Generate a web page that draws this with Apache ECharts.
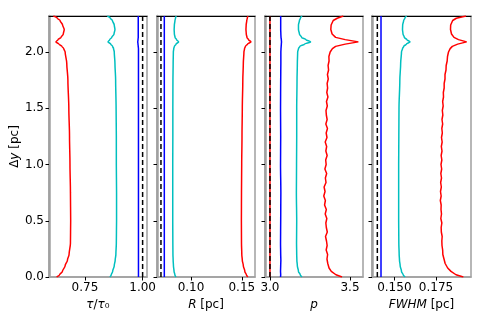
<!DOCTYPE html>
<html>
<head>
<meta charset="utf-8">
<script src="https://cdn.jsdelivr.net/npm/echarts@6/dist/echarts.min.js"></script>
<style>
  html, body { margin: 0; padding: 0; background: #fff; }
  #main { width: 491px; height: 327px; }
</style>
</head>
<body>
<div id="main"></div>
<script>
// shared height axis
var dySmooth = [0, 0.02, 0.05, 0.1, 0.15, 0.2, 0.3, 0.5, 0.75, 1.0, 1.25, 1.5, 1.75, 1.9, 2.0,
                2.03, 2.05, 2.07, 2.09, 2.11, 2.13, 2.16, 2.2, 2.24, 2.28, 2.3, 2.32];
var dyNoisy = [0, 0.02, 0.05, 0.08, 0.12,
               0.16, 0.20, 0.24, 0.28, 0.32, 0.36, 0.40, 0.44, 0.48, 0.52, 0.56, 0.60, 0.64, 0.68, 0.72,
               0.76, 0.80, 0.84, 0.88, 0.92, 0.96, 1.00, 1.04, 1.08, 1.12, 1.16, 1.20, 1.24, 1.28, 1.32,
               1.36, 1.40, 1.44, 1.48, 1.52, 1.56, 1.60, 1.64, 1.68, 1.72, 1.76, 1.80, 1.84, 1.88, 1.92,
               1.96, 2.00, 2.03, 2.05, 2.07, 2.09, 2.11, 2.13, 2.16, 2.20, 2.24, 2.28, 2.30, 2.32];
var dyEnds = [0, 2.32];

// panel 1: tau / tau0
var tauRed = [0.627, 0.640, 0.652, 0.664, 0.674, 0.681, 0.687, 0.688, 0.687, 0.685, 0.683, 0.680, 0.676, 0.671, 0.664,
              0.658, 0.650, 0.637, 0.624, 0.633, 0.646, 0.656, 0.660, 0.653, 0.642, 0.630, 0.613];
var tauCyan = [0.858, 0.864, 0.870, 0.877, 0.881, 0.884, 0.886, 0.887, 0.887, 0.886, 0.886, 0.885, 0.883, 0.880, 0.877,
               0.874, 0.870, 0.862, 0.850, 0.857, 0.866, 0.876, 0.880, 0.877, 0.869, 0.860, 0.847];
var tauBlue = [0.982, 0.982, 0.982, 0.982, 0.982, 0.982, 0.982, 0.982, 0.982, 0.982, 0.982, 0.982, 0.982, 0.982, 0.982,
               0.982, 0.981, 0.980, 0.979, 0.980, 0.981, 0.981, 0.981, 0.981, 0.981, 0.981, 0.981];
var tauRef = [1.0, 1.0];

// panel 2: R [pc]
var rRed = [0.1560, 0.1545, 0.1530, 0.1515, 0.1505, 0.1500, 0.1497, 0.1496, 0.1497, 0.1499, 0.1502, 0.1505, 0.1510, 0.1515, 0.1521,
            0.1527, 0.1535, 0.1556, 0.1590, 0.1566, 0.1551, 0.1544, 0.1541, 0.1543, 0.1549, 0.1554, 0.1561];
var rCyan = [0.0852, 0.0841, 0.0833, 0.0827, 0.0824, 0.0822, 0.0821, 0.0820, 0.0820, 0.0820, 0.0821, 0.0821, 0.0822, 0.0824, 0.0826,
             0.0830, 0.0836, 0.0852, 0.0878, 0.0858, 0.0843, 0.0836, 0.0834, 0.0836, 0.0842, 0.0847, 0.0854];
var rBlue = [0.0737, 0.0737];
var rRef = [0.0704, 0.0704];

// panel 3: p
var pRed = [3.450, 3.412, 3.383, 3.369, 3.361,
            3.356, 3.360, 3.351, 3.357, 3.353, 3.347, 3.358, 3.352, 3.349, 3.355, 3.345, 3.352, 3.341, 3.346, 3.336,
            3.344, 3.338, 3.350, 3.346, 3.354, 3.343, 3.351, 3.348, 3.357, 3.349, 3.354, 3.345, 3.356, 3.351, 3.359,
            3.349, 3.357, 3.352, 3.350, 3.358, 3.353, 3.362, 3.355, 3.360, 3.357, 3.364, 3.359, 3.366, 3.363, 3.369,
            3.368, 3.376, 3.390, 3.410, 3.470, 3.552, 3.470, 3.410, 3.388, 3.380, 3.382, 3.395, 3.420, 3.458];
var pCyan = [3.200, 3.189, 3.178, 3.171, 3.168, 3.167, 3.166, 3.167, 3.165, 3.166, 3.167, 3.167, 3.169, 3.171, 3.173,
             3.178, 3.186, 3.215, 3.254, 3.225, 3.198, 3.184, 3.178, 3.178, 3.184, 3.190, 3.200];
var pBlue = [3.066, 3.067, 3.066, 3.067, 3.068, 3.067, 3.066, 3.067, 3.068, 3.066, 3.067, 3.066, 3.067, 3.068, 3.068,
             3.069, 3.070, 3.071, 3.072, 3.071, 3.069, 3.068, 3.067, 3.067, 3.067, 3.067, 3.067];
var pRef = [3.0, 3.0];

// panel 4: FWHM [pc]
var fRed = [0.1914, 0.1870, 0.1840, 0.1820, 0.1805,
            0.1798, 0.1791, 0.1790, 0.1786, 0.1785, 0.1787, 0.1782, 0.1781, 0.1785, 0.1779, 0.1783, 0.1780, 0.1781, 0.1776, 0.1781,
            0.1777, 0.1782, 0.1778, 0.1783, 0.1779, 0.1784, 0.1780, 0.1785, 0.1781, 0.1786, 0.1782, 0.1787, 0.1783, 0.1788, 0.1785,
            0.1790, 0.1786, 0.1791, 0.1788, 0.1793, 0.1790, 0.1795, 0.1794, 0.1799, 0.1799, 0.1804, 0.1804, 0.1810, 0.1811, 0.1817,
            0.1819, 0.1825, 0.1835, 0.1848, 0.1880, 0.1934, 0.1885, 0.1858, 0.1843, 0.1837, 0.1838, 0.1850, 0.1872, 0.1930];
var fCyan = [0.1565, 0.1553, 0.1543, 0.1535, 0.1531, 0.1529, 0.1527, 0.1526, 0.1526, 0.1526, 0.1527, 0.1528, 0.1533, 0.1538, 0.1543,
             0.1549, 0.1556, 0.1572, 0.1594, 0.1575, 0.1560, 0.1552, 0.1549, 0.1550, 0.1556, 0.1563, 0.1574];
var fBlue = [0.1420, 0.1420];
var fRef = [0.1398, 0.1398];

// axis ticks
var yTicks = [0, 0.5, 1.0, 1.5, 2.0];
var tauTicks = [0.75, 1.0];
var rTicks = [0.10, 0.15];
var pTicks = [3.0, 3.5];
var fTicks = [0.150, 0.175];

var FONT = 'DejaVu Sans';
var FS = 12;
var RED = '#ff0000', CYAN = '#00bfbf', BLUE = '#0000ff';

function pts(xs, ys) {
    var out = [];
    for (var i = 0; i < xs.length; i++) out.push([xs[i], ys[i]]);
    return out;
}

var panels = [
    { left: 49, width: 98, min: 0.594, max: 1.019, ticks: tauTicks, dec: 2,
      name: '{i|τ}/{i|τ}₀' },
    { left: 157, width: 98, min: 0.0665, max: 0.163, ticks: rTicks, dec: 2,
      name: '{i|R} [pc]' },
    { left: 265, width: 98, min: 2.969, max: 3.581, ticks: pTicks, dec: 1,
      name: '{i|p}' },
    { left: 372, width: 99, min: 0.1366, max: 0.196, ticks: fTicks, dec: 3,
      name: '{i|FWHM} [pc]' }
];

var grids = [], xAxes = [], yAxes = [], series = [];
var topAxes = [];
panels.forEach(function (p, k) {
    grids.push({
        left: p.left, width: p.width, top: 16, height: 261,
        show: true, borderColor: '#a0a0a0', borderWidth: 1.5,
        outerBoundsMode: 'none'
    });
    xAxes.push({
        type: 'value', gridIndex: k, position: 'bottom', min: p.min, max: p.max,
        splitLine: { show: false },
        axisLine: { show: true, onZero: false, lineStyle: { color: '#a0a0a0', width: 1.5 } },
        axisTick: { customValues: p.ticks, length: 3.5, lineStyle: { color: '#000' } },
        axisLabel: {
            customValues: p.ticks, margin: 5, color: '#000', fontSize: FS, fontFamily: FONT,
            formatter: (function (d) { return function (v) { return v.toFixed(d); }; })(p.dec)
        },
        name: p.name, nameLocation: 'middle', nameGap: 21,
        nameTextStyle: { color: '#000', fontSize: FS, fontFamily: FONT,
                         rich: { i: { fontStyle: 'italic', fontSize: FS, fontFamily: FONT } } }
    });
    topAxes.push({
        type: 'value', gridIndex: k, position: 'top', min: p.min, max: p.max,
        splitLine: { show: false }, axisTick: { show: false }, axisLabel: { show: false },
        axisLine: { show: true, onZero: false, lineStyle: { color: '#000', width: 1 } }
    });
    var ya = {
        type: 'value', gridIndex: k, min: 0, max: 2.32,
        splitLine: { show: false },
        axisLine: { show: true, onZero: false, lineStyle: { color: '#a0a0a0', width: 2.5 } },
        axisTick: { customValues: yTicks, length: 3.5, lineStyle: { color: '#000' } },
        axisLabel: { show: k === 0, customValues: yTicks, margin: 5, color: '#000', fontSize: FS,
                     fontFamily: FONT, formatter: function (v) { return v.toFixed(1); } }
    };
    if (k === 0) {
        ya.name = '{n|Δ}{i|y} [pc]';
        ya.nameLocation = 'middle';
        ya.nameGap = 26;
        ya.nameTextStyle = { color: '#000', fontSize: FS, fontFamily: FONT,
                             rich: { n: { fontSize: FS, fontFamily: FONT },
                                     i: { fontStyle: 'italic', fontSize: FS, fontFamily: FONT } } };
    }
    yAxes.push(ya);
});
xAxes = xAxes.concat(topAxes);

function line(k, data, color, dashed, smooth) {
    series.push({
        type: 'line', xAxisIndex: k, yAxisIndex: k, data: data,
        showSymbol: false, symbol: 'none', silent: true, animation: false,
        smooth: smooth ? 0.3 : false, smoothMonotone: 'y',
        lineStyle: { color: color, width: 1.5, type: dashed ? [5, 3] : 'solid' }
    });
}

// panel 1
line(0, pts(tauRed, dySmooth), RED, false, true);
line(0, pts(tauCyan, dySmooth), CYAN, false, true);
line(0, pts(tauBlue, dySmooth), BLUE, false, true);
line(0, pts(tauRef, dyEnds), '#000', true, false);
// panel 2
line(1, pts(rRed, dySmooth), RED, false, true);
line(1, pts(rCyan, dySmooth), CYAN, false, true);
line(1, pts(rBlue, dyEnds), BLUE, false, false);
line(1, pts(rRef, dyEnds), '#000', true, false);
// panel 3
line(2, pts(pRef, dyEnds), RED, false, false);
line(2, pts(pRed, dyNoisy), RED, false, false);
line(2, pts(pCyan, dySmooth), CYAN, false, true);
line(2, pts(pBlue, dySmooth), BLUE, false, true);
line(2, pts(pRef, dyEnds), '#000', true, false);
// panel 4
line(3, pts(fRed, dyNoisy), RED, false, false);
line(3, pts(fCyan, dySmooth), CYAN, false, true);
line(3, pts(fBlue, dyEnds), BLUE, false, false);
line(3, pts(fRef, dyEnds), '#000', true, false);

var myChart = echarts.init(document.getElementById('main'));
var option = {
    backgroundColor: '#fff',
    animation: false,
    grid: grids,
    xAxis: xAxes,
    yAxis: yAxes,
    series: series
};
myChart.setOption(option);
</script>
</body>
</html>
